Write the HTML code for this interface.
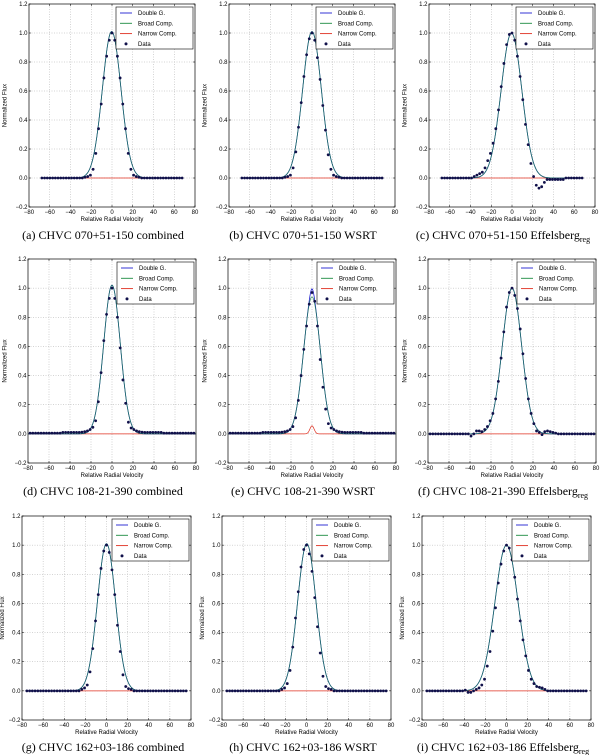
<!DOCTYPE html>
<html><head><meta charset="utf-8"><style>
html,body{margin:0;padding:0;background:#fff}
svg{display:block}
.tk{font-family:"Liberation Sans",sans-serif;font-size:6px;fill:#000}
.cap{font-family:"Liberation Serif",serif;font-size:12px;fill:#000}
</style></head><body>
<svg id="fig" width="600" height="755" viewBox="0 0 600 755" xmlns="http://www.w3.org/2000/svg"></svg>
<script>
const xTicks=[-80,-60,-40,-20,0,20,40,60,80];
const yTicks=[-0.2,0.0,0.2,0.4,0.6,0.8,1.0,1.2];
const legendLabels=["Double G.","Broad Comp.","Narrow Comp.","Data"];
const captions=["(a)  CHVC 070+51-150 combined","(b)  CHVC 070+51-150 WSRT","(c)  CHVC 070+51-150 Effelsberg","(d)  CHVC 108-21-390 combined","(e)  CHVC 108-21-390 WSRT","(f)  CHVC 108-21-390 Effelsberg","(g)  CHVC 162+03-186 combined","(h)  CHVC 162+03-186 WSRT","(i)  CHVC 162+03-186 Effelsberg"];
const captionSub=[false,false,true,false,false,true,false,false,true];
const velStart=[-67.6,-78,-75.4];
const velStep=[2.6,2.6,2.6];
const curveRange=[[-68,68],[-80,80],[-75,75]];
// fit parameters: [amp, center, sigma]
const broadFit=[[1.01,-0.3,9.0],[1.01,0,9.0],[1.0,-0.5,10.0],[1.02,0,7.9],[0.94,0,8.0],[1.0,0,9.2],[1.01,0,8.6],[1.01,0.3,8.7],[1.0,0,11.0]];
const narrowFit=[[0,0,2],[0,0,2],[0,0,2],[0,0,2],[0.055,0,2.0],[0,0,2],[0,0,2],[0,0,2],[0,0,2]];
const fluxA=[0,0,0,0,0,0,0,0,0,0,0,0,0,0,0,0,0.005,0.01,0.02,0.06,0.17,0.34,0.51,0.69,0.84,0.95,1.0,0.95,0.84,0.69,0.51,0.34,0.17,0.06,0.02,0.01,0.005,0,0,0,0,0,0,0,0,0,0,0,0,0,0,0,0];
const fluxB=[0,0,0,0,0,0,0,0,0,0,0,0,0,0,0,0,0.005,0.01,0.02,0.07,0.18,0.35,0.52,0.70,0.85,0.96,1.0,0.95,0.83,0.68,0.50,0.33,0.16,0.06,0.02,0.01,0.005,0,0,0,0,0,0,0,0,0,0,0,0,0,0,0,0];
const fluxC=[0,0,0,0,0,0,0,0,0,0,0,0,0.01,0.02,0.03,0.04,0.07,0.12,0.17,0.24,0.34,0.47,0.63,0.79,0.92,0.99,1.0,0.95,0.84,0.70,0.54,0.37,0.23,0.10,0.01,-0.05,-0.07,-0.06,-0.03,-0.01,-0.01,-0.01,-0.01,-0.01,-0.01,-0.01,0,0,0,0,0,0,0];
const fluxD=[0.005,0.005,0.005,0.005,0.005,0.005,0.005,0.005,0.005,0.005,0.005,0.005,0.01,0.01,0.01,0.01,0.01,0.01,0.01,0.012,0.015,0.02,0.03,0.045,0.09,0.22,0.42,0.64,0.82,0.93,1.0,0.93,0.80,0.59,0.37,0.21,0.08,0.04,0.03,0.02,0.015,0.012,0.01,0.01,0.01,0.01,0.01,0.01,0.01,0.005,0.005,0.005,0.005,0.005,0.005,0.005,0.005,0.005,0.005,0.005,0.005];
const fluxE=[0.005,0.005,0.005,0.005,0.005,0.005,0.005,0.005,0.005,0.005,0.005,0.005,0.01,0.01,0.01,0.01,0.01,0.01,0.01,0.012,0.015,0.02,0.03,0.05,0.11,0.23,0.40,0.58,0.74,0.89,0.97,0.91,0.74,0.51,0.32,0.17,0.07,0.04,0.03,0.02,0.015,0.012,0.01,0.01,0.01,0.01,0.01,0.01,0.01,0.005,0.005,0.005,0.005,0.005,0.005,0.005,0.005,0.005,0.005,0.005,0.005];
const fluxF=[0,0,0,0,0,0,0,0,0,0,0,0,0,0,0,-0.015,0.0,0.02,0.02,0.015,0.03,0.05,0.09,0.14,0.24,0.36,0.52,0.70,0.87,0.97,1.0,0.95,0.86,0.72,0.55,0.38,0.24,0.14,0.07,0.02,0.01,-0.005,0.015,0.02,0.015,0.01,0.005,0,0,0,0,0,0,0,0,0,0,0,0,0,0];
const fluxG=[0,0,0,0,0,0,0,0,0,0,0,0,0,0,0,0,0,0,0,0,0.01,0.02,0.04,0.13,0.29,0.48,0.66,0.84,0.96,1.0,0.95,0.83,0.66,0.45,0.27,0.11,0.03,0.015,0.01,0,0,0,0,0,0,0,0,0,0,0,0,0,0,0,0,0,0,0,0];
const fluxH=[0,0,0,0,0,0,0,0,0,0,0,0,0,0,0,0,0,0,0,0,0.01,0.02,0.05,0.14,0.30,0.50,0.68,0.85,0.97,1.0,0.94,0.82,0.64,0.44,0.26,0.10,0.03,0.015,0.01,0,0,0,0,0,0,0,0,0,0,0,0,0,0,0,0,0,0,0,0];
const fluxI=[0,0,0,0,0,0,0,0,0,0,0,0,0,0,0.005,-0.01,-0.01,0.0,0.01,0.02,0.04,0.08,0.17,0.27,0.41,0.57,0.74,0.87,0.96,1.0,0.98,0.90,0.78,0.63,0.48,0.35,0.24,0.14,0.08,0.05,0.03,0.025,0.02,0.01,0,0,0,0,0,0,0,0,0,0,0,0,0,0,0];
const fluxes=[fluxA,fluxB,fluxC,fluxD,fluxE,fluxF,fluxG,fluxH,fluxI];

const NS="http://www.w3.org/2000/svg";
const svg=document.getElementById('fig');
function mk(tag,attrs,parent){const e=document.createElementNS(NS,tag);for(const k in attrs)e.setAttribute(k,attrs[k]);(parent||svg).appendChild(e);return e;}
const rowGeom=[{L:29,R:195,T:4,B:207,cap:239},{L:28,R:196,T:259,B:463,cap:495},{L:22,R:191,T:516,B:720,cap:751}];
const colX=[0,200,400];
function gauss(p,v){return p[0]*Math.exp(-Math.pow(v-p[1],2)/(2*p[2]*p[2]));}

for(let i=0;i<9;i++){
  const r=Math.floor(i/3),c=i%3,g=rowGeom[r],ox=colX[c];
  const L=ox+g.L,R=ox+g.R,T=g.T,B=g.B;
  const xs=v=>L+(v+80)/160*(R-L);
  const ys=f=>B-(f+0.2)/1.4*(B-T);
  const grp=mk('g',{});
  
  
  xTicks.forEach(t=>{if(t>-80&&t<80){const l=mk('line',{x1:xs(t),x2:xs(t),y1:T,y2:B,stroke:'#aaa','stroke-width':0.5,'stroke-dasharray':'1,1.5'},grp);}});
  yTicks.forEach(t=>{if(t>-0.2&&t<1.2){const l=mk('line',{x1:L,x2:R,y1:ys(t),y2:ys(t),stroke:'#aaa','stroke-width':0.5,'stroke-dasharray':'1,1.5'},grp);}});
  xTicks.forEach(t=>{const tx=mk('text',{x:xs(t),y:B+7,'text-anchor':'middle',class:'tk'},grp);tx.textContent=t<0?'\u2212'+(-t):String(t);
    mk('line',{x1:xs(t),x2:xs(t),y1:B,y2:B-2,stroke:'#000','stroke-width':0.5},grp);mk('line',{x1:xs(t),x2:xs(t),y1:T,y2:T+2,stroke:'#000','stroke-width':0.5},grp);});
  yTicks.forEach(t=>{const tx=mk('text',{x:L-1.5,y:ys(t)+2,'text-anchor':'end',class:'tk'},grp);tx.textContent=(t<0?'\u2212':'')+Math.abs(t).toFixed(1);
    mk('line',{x1:L,x2:L+2,y1:ys(t),y2:ys(t),stroke:'#000','stroke-width':0.5},grp);mk('line',{x1:R,x2:R-2,y1:ys(t),y2:ys(t),stroke:'#000','stroke-width':0.5},grp);});
  const xt=mk('text',{x:(L+R)/2,y:B+14,'text-anchor':'middle',class:'tk'},grp);xt.textContent='Relative Radial Velocity';
  
  const yt=mk('text',{x:0,y:0,'text-anchor':'middle',class:'tk',transform:`translate(${ox+(r==2?4:6.5)},${(T+B)/2}) rotate(-90)`},grp);yt.textContent='Normalized Flux';
  
  const [v0,v1]=curveRange[r];
  let pD='',pB='',pN='';
  for(let v=v0;v<=v1+1e-9;v+=0.5){
    const b=gauss(broadFit[i],v),n=gauss(narrowFit[i],v);
    const cmd=(v===v0?'M':'L');
    pD+=cmd+xs(v).toFixed(2)+','+ys(b+n).toFixed(2);
    pB+=cmd+xs(v).toFixed(2)+','+ys(b).toFixed(2);
    pN+=cmd+xs(v).toFixed(2)+','+ys(n).toFixed(2);
  }
  const cN=mk('path',{d:pN,fill:'none',stroke:'#e03020','stroke-width':0.7},grp);
  const cDb=mk('path',{d:pD,fill:'none',stroke:'#2020d0','stroke-width':0.8},grp);
  const cB=mk('path',{d:pB,fill:'none',stroke:'#1a7a50','stroke-width':0.8,'stroke-opacity':0.85},grp);
  fluxes[i].forEach((f,k)=>{const v=velStart[r]+k*velStep[r];const d=mk('circle',{cx:xs(v),cy:ys(f),r:1.4,fill:'#10104a'},grp);});
  const fr=mk('rect',{x:L,y:T,width:R-L,height:B-T,fill:'none',stroke:'#000','stroke-width':0.7},grp);
  const lx=R-79,ly=T+3,lw=77,lh=42;
  const lg=mk('g',{},grp);
  mk('rect',{x:lx,y:ly,width:lw,height:lh,fill:'#fff',stroke:'#000','stroke-width':0.6},lg);
  const cols=['#2020d0','#1a8a40','#e03020'];
  legendLabels.forEach((lab,k)=>{const yy=ly+6+k*10.3;
    if(k<3){mk('line',{x1:lx+4,x2:lx+16,y1:yy,y2:yy,stroke:cols[k],'stroke-width':0.9},lg);}
    else{mk('circle',{cx:lx+10,cy:yy,r:1.5,fill:'#10104a'},lg);}
    const t=mk('text',{x:lx+22,y:yy+2,class:'tk','font-size':'6.2px'},lg);t.textContent=lab;});
  const cp=mk('text',{x:ox+103,y:g.cap,'text-anchor':'middle',class:'cap'},grp);cp.textContent=captions[i];
  if(captionSub[i]){const s=mk('tspan',{'font-size':'8px',dy:'3'},cp);s.textContent='reg';}
  
}
</script>
</body></html>
